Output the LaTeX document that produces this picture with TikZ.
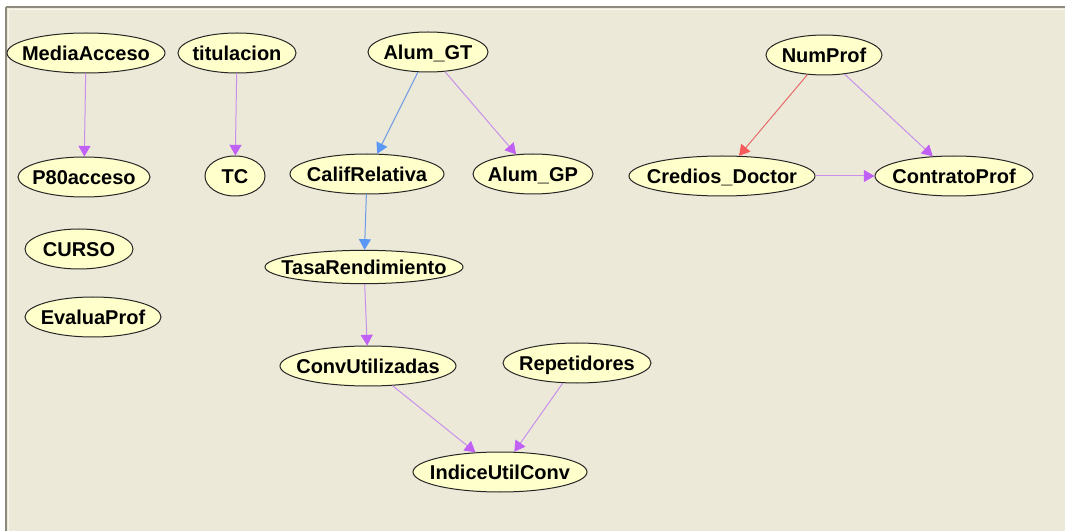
\documentclass[tikz,border=0pt]{standalone}
\usepackage{fontspec}
\setmainfont{Liberation Sans}
\usetikzlibrary{shapes.geometric,arrows.meta}
\definecolor{panel}{HTML}{ECE9D8}
\definecolor{rim}{HTML}{8E8B7D}
\definecolor{rimlight}{HTML}{F7F5EC}
\definecolor{nodefill}{HTML}{FFFFCC}
\definecolor{violetline}{HTML}{C890EC}
\definecolor{violethead}{HTML}{C060F4}
\definecolor{blueline}{HTML}{6A98E8}
\definecolor{bluehead}{HTML}{5B98F5}
\definecolor{redline}{HTML}{E86A6A}
\definecolor{redhead}{HTML}{F55B5B}
% label set in a zero-width box so the ellipse size comes from the style
\newcommand\ntext[1]{\makebox[0pt]{#1}}

\begin{document}
\begin{tikzpicture}[x=0.75pt,y=-0.75pt,
  var/.style={ellipse, draw=black!85, line width=0.75pt, fill=nodefill,
    inner sep=0pt, minimum height=30pt, text height=10.7pt, text depth=0pt,
    font=\bfseries\fontsize{15}{18}\selectfont},
  rxw/.style={minimum width=#1*1.5pt},
  link/.style={line width=0.75pt},
  violetarrow/.style={link, draw=violetline, -{Triangle[width=9pt,length=8pt,color=violethead]}},
  bluearrow/.style={link, draw=blueline, -{Triangle[width=9pt,length=8pt,color=bluehead]}},
  redarrow/.style={link, draw=redline, -{Triangle[width=9pt,length=8pt,color=redhead]}}]

% window panel with its sunken frame
\useasboundingbox (0,0) rectangle (1065,531);
\fill[white] (0,0) rectangle (1065,531);
\fill[panel] (6,7) rectangle (1065,531);
\draw[rimlight, line width=0.75pt] (8.5,9.5) -- (1065,9.5);
\draw[rimlight, line width=0.75pt] (8.5,9.5) -- (8.5,531);
\draw[rim, line width=1.5pt] (6,7) -- (1065,7);
\draw[rim, line width=1.5pt] (6,7) -- (6,531);

% variables
\node[var, rxw=79] (MediaAcceso) at (86,53) {\ntext{MediaAcceso}};
\node[var, rxw=59] (titulacion) at (237,53) {\ntext{titulacion}};
\node[var, rxw=60] (AlumGT) at (428,52) {\ntext{Alum\_GT}};
\node[var, rxw=58] (NumProf) at (824,55) {\ntext{NumProf}};
\node[var, rxw=66] (P80acceso) at (84,177) {\ntext{P80acceso}};
\node[var, rxw=30] (TC) at (235,176) {\ntext{TC}};
\node[var, rxw=77] (CalifRelativa) at (367,174) {\ntext{CalifRelativa}};
\node[var, rxw=60] (AlumGP) at (533,174) {\ntext{Alum\_GP}};
\node[var, rxw=93] (CrediosDoctor) at (722,176) {\ntext{Credios\_Doctor}};
\node[var, rxw=79] (ContratoProf) at (954,176) {\ntext{ContratoProf}};
\node[var, rxw=54] (CURSO) at (79,249) {\ntext{CURSO}};
\node[var, rxw=68] (EvaluaProf) at (93,317) {\ntext{EvaluaProf}};
\node[var, rxw=99, minimum height=25pt] (TasaRendimiento) at (364,267) {\ntext{TasaRendimiento}};
\node[var, rxw=88] (ConvUtilizadas) at (368,366) {\ntext{ConvUtilizadas}};
\node[var, rxw=74] (Repetidores) at (577,363) {\ntext{Repetidores}};
\node[var, rxw=87] (IndiceUtilConv) at (500,472) {\ntext{IndiceUtilConv}};

% dependencies
\draw[violetarrow] (MediaAcceso) -- (P80acceso);
\draw[violetarrow] (titulacion) -- (TC);
\draw[bluearrow] (AlumGT) -- (CalifRelativa);
\draw[violetarrow] (AlumGT) -- (AlumGP);
\draw[redarrow] (NumProf) -- (CrediosDoctor);
\draw[violetarrow] (NumProf) -- (ContratoProf);
\draw[violetarrow] (CrediosDoctor) -- (ContratoProf);
\draw[bluearrow] (CalifRelativa) -- (TasaRendimiento);
\draw[violetarrow] (TasaRendimiento) -- (ConvUtilizadas);
\draw[violetarrow] (ConvUtilizadas) -- (IndiceUtilConv);
\draw[violetarrow] (Repetidores) -- (IndiceUtilConv);
\end{tikzpicture}
\end{document}
